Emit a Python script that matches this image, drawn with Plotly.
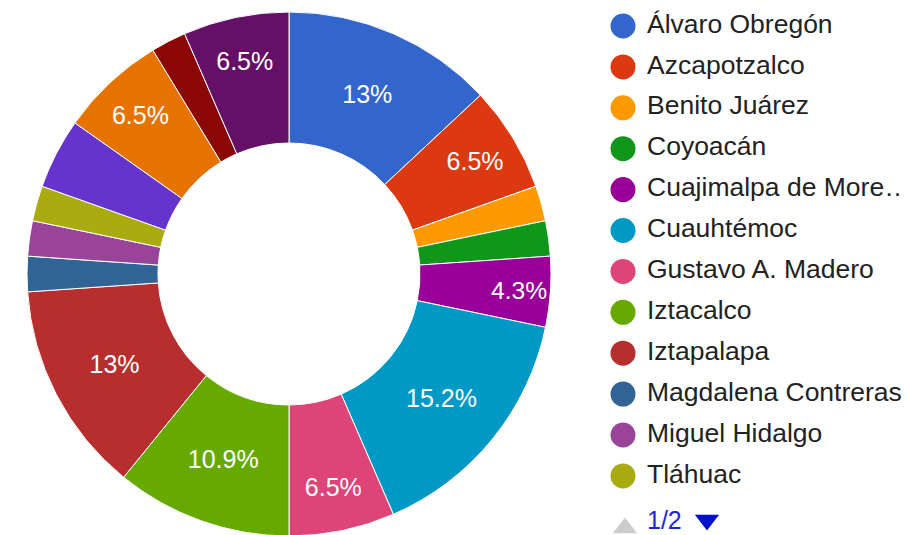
import math
import plotly.graph_objects as go

# ---- data ----
categories = ["Álvaro Obregón", "Azcapotzalco", "Benito Juárez", "Coyoacán",
              "Cuajimalpa de Morelos", "Cuauhtémoc", "Gustavo A. Madero",
              "Iztacalco", "Iztapalapa", "Magdalena Contreras", "Miguel Hidalgo",
              "Tláhuac", "Tlalpan", "Venustiano Carranza", "Xochimilco", "Otro"]
counts = [6, 3, 1, 1, 2, 7, 3, 5, 6, 1, 1, 1, 2, 3, 1, 3]
colors = ["#3366cc", "#dc3912", "#ff9900", "#109618", "#990099", "#0099c6",
          "#dd4477", "#66aa00", "#b82e2e", "#316395", "#994499", "#aaaa11",
          "#6633cc", "#e67300", "#8b0707", "#651067"]
legend_page_label = "1/2"
legend_page_size = 12

FONT = "Arial, Liberation Sans, sans-serif"
W, H = 910, 535
OFF = 8  # page body margin offset in the browser

total = sum(counts)
# slice labels: shown only when the text fits (large slice, or narrow slice lying horizontally)
slice_text = []
cum = 0
for v in counts:
    pct = v / total * 100
    theta = (cum + v / 2) / total * 2 * math.pi  # from 12 o'clock, clockwise
    cum += v
    fits = pct >= 5 or (pct >= 3 and abs(math.sin(theta)) > 0.97)
    slice_text.append(f"{round(pct, 1):g}%" if fits else "")

# pie geometry (pixels, in reference-screen coordinates)
cx, cy, R = 289 - OFF, 274 - OFF, 262

fig = go.Figure()
fig.add_trace(go.Pie(
    labels=categories, values=counts, sort=False, direction="clockwise",
    rotation=0, hole=0.5,
    marker=dict(colors=colors, line=dict(color="white", width=1)),
    text=slice_text, textinfo="text", textposition="inside",
    insidetextorientation="horizontal",
    insidetextfont=dict(color="white", size=25, family=FONT),
    domain=dict(x=[(cx - R) / W, (cx + R) / W],
                y=[(H - (cy + R)) / H, (H - (cy - R)) / H]),
    showlegend=False, hoverinfo="label+percent",
))

# custom legend (first page)
def short(name):
    return name if len(name) <= 19 else name[:18] + "…"

leg_names = [short(c) for c in categories[:legend_page_size]]
leg_cols = colors[:legend_page_size]
row_y = [26 - OFF + 40.9 * i for i in range(legend_page_size)]

fig.add_trace(go.Scatter(
    x=[623 - OFF] * legend_page_size, y=row_y, mode="markers",
    marker=dict(symbol="circle", size=25, color=leg_cols, line=dict(width=0)),
    hoverinfo="skip", showlegend=False,
))
fig.add_trace(go.Scatter(
    x=[647 - OFF] * legend_page_size, y=row_y, mode="text", text=leg_names,
    textposition="middle right",
    textfont=dict(size=26.5, color="#222222", family=FONT),
    hoverinfo="skip", showlegend=False,
))
# pagination arrows
fig.add_trace(go.Scatter(
    x=[625 - OFF, 707 - OFF], y=[528 - OFF, 520 - OFF], mode="markers",
    marker=dict(symbol=["triangle-up", "triangle-down"], size=21,
                color=["#cccccc", "#0011cc"], line=dict(width=0)),
    hoverinfo="skip", showlegend=False,
))
fig.add_trace(go.Scatter(
    x=[647 - OFF], y=[523 - OFF], mode="text", text=[legend_page_label],
    textposition="middle right",
    textfont=dict(size=25, color="#1a28d6", family=FONT),
    hoverinfo="skip", showlegend=False,
))

fig.update_layout(
    width=W, height=H, margin=dict(l=0, r=0, t=0, b=0, pad=0),
    paper_bgcolor="white", plot_bgcolor="rgba(0,0,0,0)",
    showlegend=False,
    xaxis=dict(visible=False, range=[0, W], domain=[0, 1], fixedrange=True),
    yaxis=dict(visible=False, range=[H, 0], domain=[0, 1], fixedrange=True),
)

fig.write_html("out.html")
